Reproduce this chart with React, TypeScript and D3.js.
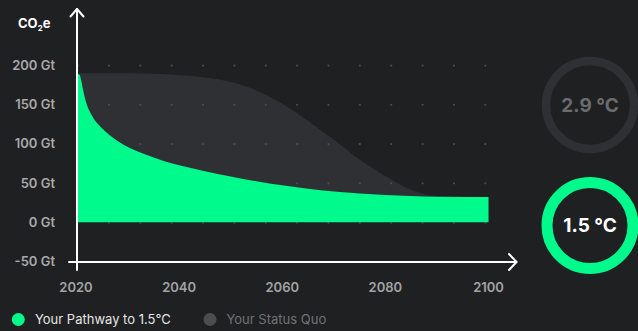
import React from "react";
import * as d3 from "d3";

// Emissions pathway (Gt CO2e per year)
const pathwayYears = [2020, 2020.7, 2021, 2021.4, 2022, 2023, 2025, 2028, 2031, 2034, 2037, 2040, 2045, 2050, 2055, 2060, 2065, 2070, 2075, 2080, 2085, 2090, 2100];
const pathwayValues = [190, 188, 181, 168, 152, 137, 120, 104, 93, 85, 78, 72.5, 65, 58.3, 52.3, 47, 42.7, 39.3, 36.7, 34.8, 33.4, 32.6, 32.2];

// Status quo emissions (Gt CO2e per year)
const statusYears = [2020, 2030, 2035, 2040, 2045, 2050, 2055, 2060, 2065, 2070, 2075, 2080, 2085, 2089, 2093, 2100];
const statusValues = [190, 190, 189.3, 187.5, 184.5, 179, 168, 151, 129, 105, 80, 59, 41.5, 34.2, 32.8, 32.2];

const yTicks = [-50, 0, 50, 100, 150, 200];
const xTicks = [2020, 2040, 2060, 2080, 2100];
const gridRows = [0, 50, 100, 150, 200];
const gridColumns = d3.range(14);

const legendItems = ["Your Pathway to 1.5°C", "Your Status Quo"];
const pathwayTemp = "1.5 °C";
const statusTemp = "2.9 °C";

const W = 638;
const H = 331;
const BG = "#1f2022";
const GREEN = "#00fa8c";
const GREY_AREA = "#2f3033";
const FONT = "Inter, 'Noto Sans', sans-serif";

export default function App() {
  const x = d3.scaleLinear().domain([2020, 2100]).range([76, 488.5]);
  const y = d3.scaleLinear().domain([-50, 200]).range([261.5, 65.3]);
  const gx = d3.scaleLinear().domain([0, 13]).range([77.6, 485.3]);

  const area = d3
    .area<[number, number]>()
    .x((d) => x(d[0]))
    .y0(y(0))
    .y1((d) => y(d[1]))
    .curve(d3.curveMonotoneX);

  const pathway = pathwayYears.map((yr, i) => [yr, pathwayValues[i]] as [number, number]);
  const status = statusYears.map((yr, i) => [yr, statusValues[i]] as [number, number]);

  const axisX = x(2020) + 1;
  const axisY = y(-50) + 0.5;
  const xEnd = 516.5;

  return (
    <div style={{ position: "fixed", inset: 0, background: BG }}>
      <svg width={W} height={H} style={{ position: "absolute", left: 0, top: 0 }} fontFamily={FONT}>
        <rect width={W} height={H} fill={BG} />

        {/* status quo area */}
        <path d={area(status) ?? ""} fill={GREY_AREA} />

        {/* dot grid */}
        {gridRows.map((r) =>
          gridColumns.map((c) => (
            <circle key={`${r}-${c}`} cx={gx(c)} cy={y(r) + 0.3} r={1.1} fill="#4a4b4e" />
          ))
        )}

        {/* pathway area */}
        <path d={area(pathway) ?? ""} fill={GREEN} />

        {/* axes */}
        <g stroke="#ffffff" strokeWidth={2} fill="none" strokeLinecap="round" strokeLinejoin="round">
          <line x1={axisX} y1={270} x2={axisX} y2={9} />
          <polyline points={`${axisX - 6.5},${16.5} ${axisX},${9} ${axisX + 6.5},${16.5}`} />
          <line x1={69} y1={axisY} x2={xEnd} y2={axisY} />
          <polyline points={`${xEnd - 7.5},${axisY - 8} ${xEnd},${axisY} ${xEnd - 7.5},${axisY + 8}`} />
        </g>

        {/* y tick labels */}
        {yTicks.map((t) => (
          <text
            key={t}
            x={55}
            y={y(t)}
            dy="0.35em"
            textAnchor="end"
            fill="#a9a9aa"
            fontSize={13}
            fontWeight={600}
          >
            {`${t} Gt`}
          </text>
        ))}

        {/* y axis title */}
        <text x={18} y={27.5} fill="#ffffff" fontSize={13} fontWeight={700}>
          CO
          <tspan fontSize={8} dy={3}>2</tspan>
          <tspan dy={-3}>e</tspan>
        </text>

        {/* x tick labels */}
        {xTicks.map((t) => (
          <text
            key={t}
            x={x(t)}
            y={287.5}
            dy="0.35em"
            textAnchor="middle"
            fill="#a3a3a4"
            fontSize={13}
            fontWeight={600}
          >
            {t}
          </text>
        ))}

        {/* temperature rings */}
        <circle cx={590} cy={105} r={44} fill="none" stroke="#2f3033" strokeWidth={8.5} />
        <text x={590} y={105} dy="0.36em" textAnchor="middle" fill="#6c6c6e" fontSize={19} fontWeight={700}>
          {statusTemp}
        </text>
        <circle cx={590} cy={225.5} r={43} fill="none" stroke={GREEN} strokeWidth={11} />
        <text x={590} y={225.5} dy="0.36em" textAnchor="middle" fill="#ffffff" fontSize={19} fontWeight={700}>
          {pathwayTemp}
        </text>

        {/* legend */}
        <circle cx={18.3} cy={319.5} r={6.5} fill={GREEN} />
        <text x={35} y={319.5} dy="0.35em" fill="#e6e6e6" fontSize={13}>
          {legendItems[0]}
        </text>
        <circle cx={210} cy={319.5} r={6.5} fill="#4d4d4f" />
        <text x={226.5} y={319.5} dy="0.35em" fill="#727274" fontSize={13}>
          {legendItems[1]}
        </text>
      </svg>
    </div>
  );
}
